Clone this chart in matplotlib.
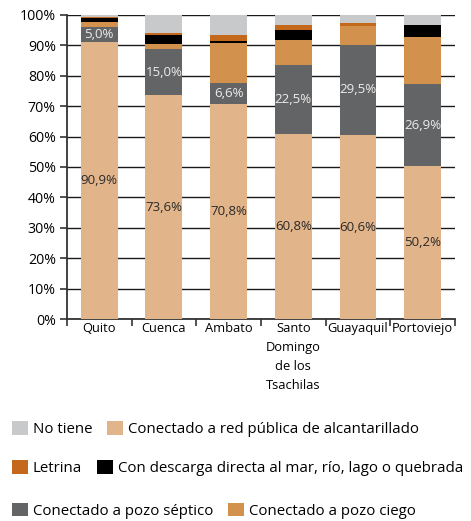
import numpy as np
import matplotlib.pyplot as plt
from matplotlib.patches import Patch

plt.rcParams['font.family'] = ['Open Sans', 'DejaVu Sans']

ciudades = ["Quito", "Cuenca", "Ambato", "Santo\nDomingo\nde los\nTsachilas", "Guayaquil", "Portoviejo"]

# porcentajes por tipo de eliminacion de excretas (de abajo hacia arriba)
red_publica = [90.9, 73.6, 70.8, 60.8, 60.6, 50.2]
pozo_septico = [5.0, 15.0, 6.6, 22.5, 29.5, 26.9]
pozo_ciego = [1.6, 1.9, 13.4, 8.5, 6.0, 15.6]
descarga_directa = [1.5, 2.9, 0.6, 3.3, 0.3, 3.9]
letrina = [0.3, 0.7, 2.0, 1.6, 1.0, 0.0]
no_tiene = [0.7, 6.0, 6.6, 3.4, 2.7, 3.4]

series = [
    ("Conectado a red pública de alcantarillado", red_publica, "#e2b48a"),
    ("Conectado a pozo séptico", pozo_septico, "#636466"),
    ("Conectado a pozo ciego", pozo_ciego, "#d2914d"),
    ("Con descarga directa al mar, río, lago o quebrada", descarga_directa, "#000000"),
    ("Letrina", letrina, "#c4681b"),
    ("No tiene", no_tiene, "#c8c9cb"),
]
colores = {nombre: c for nombre, _, c in series}

fig = plt.figure(figsize=(4.71, 5.21), dpi=100)
ax = fig.add_axes([0.142, 0.387, 0.824, 0.585])

x = np.arange(len(ciudades))
bottom = np.zeros(len(ciudades))
for nombre, vals, color in series:
    vals = np.array(vals)
    ax.bar(x, vals, 0.57, bottom=bottom, color=color, zorder=3)
    if nombre.startswith("Conectado a red"):
        for xi, b, v in zip(x, bottom, vals):
            ax.text(xi, b + v / 2, f"{v:.1f}%".replace(".", ","), ha="center", va="center",
                    fontsize=9.5, color="#2a2a2a", zorder=4)
    if nombre == "Conectado a pozo séptico":
        for xi, b, v in zip(x, bottom, vals):
            ax.text(xi, b + v / 2, f"{v:.1f}%".replace(".", ","), ha="center", va="center",
                    fontsize=9.5, color="#ececec", zorder=4)
    bottom += vals

ax.set_xlim(-0.5, len(ciudades) - 0.5)
ax.set_ylim(0, 100)
ax.set_yticks(np.arange(0, 101, 10))
ax.set_yticklabels([f"{v}%" for v in range(0, 101, 10)], fontsize=10.2)
ax.yaxis.grid(True, color="#1a1a1a", linewidth=1.0, zorder=0)
ax.set_xticks(x)
ax.set_xticklabels(ciudades, fontsize=9.3, linespacing=1.6)
ax.set_xticks(np.arange(-0.5, len(ciudades)), minor=True)
ax.tick_params(axis="x", which="major", length=0, pad=2)
ax.tick_params(axis="x", which="minor", length=5, width=1.2, color="#333333")
ax.tick_params(axis="y", length=5, width=1.2, color="#333333", pad=3)
for s in ["top", "right"]:
    ax.spines[s].set_visible(False)
ax.spines["left"].set_color("#333333")
ax.spines["left"].set_linewidth(1.3)
ax.spines["bottom"].set_color("#333333")
ax.spines["bottom"].set_linewidth(1.3)

filas = [
    (["No tiene", "Conectado a red pública de alcantarillado"], 0.177),
    (["Letrina", "Con descarga directa al mar, río, lago o quebrada"], 0.101),
    (["Conectado a pozo séptico", "Conectado a pozo ciego"], 0.020),
]
for nombres, y in filas:
    handles = [Patch(facecolor=colores[n], edgecolor="none") for n in nombres]
    fig.legend(handles, nombres, loc="center left", bbox_to_anchor=(0.025, y), ncol=2,
               frameon=False, fontsize=10.8, handlelength=1.05, handleheight=1.05,
               handletextpad=0.35, columnspacing=1.0, borderaxespad=0.0, borderpad=0.0)

fig.savefig("out.png", dpi=100)
